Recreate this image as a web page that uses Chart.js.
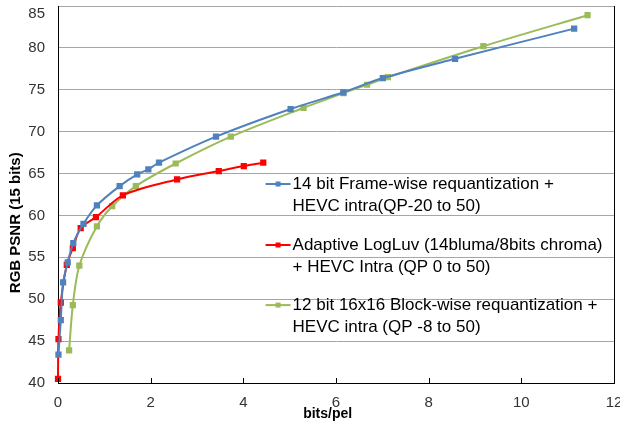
<!DOCTYPE html>
<html>
<head>
<meta charset="utf-8">
<script src="https://cdn.jsdelivr.net/npm/chart.js@4/dist/chart.umd.min.js"></script>
<style>
  html, body { margin: 0; padding: 0; background: #fff; }
  #wrap { width: 620px; height: 421px; }
</style>
</head>
<body>
<div id="wrap"><canvas id="rdChart" width="620" height="421"></canvas></div>
<script>
// bits/pel (x) and RGB PSNR (y)
const frameBits = [0.01, 0.06, 0.11, 0.21, 0.33, 0.55, 0.84, 1.33, 1.71, 1.95, 2.18, 3.41, 5.02, 6.16, 7.01, 8.57, 11.14];
const framePsnr = [43.4, 47.5, 52.0, 54.4, 56.7, 59.0, 61.2, 63.5, 64.9, 65.5, 66.3, 69.4, 72.7, 74.7, 76.4, 78.7, 82.3];

const logluvBits = [0.0, 0.01, 0.06, 0.19, 0.32, 0.49, 0.82, 1.40, 2.57, 3.47, 4.01, 4.43];
const logluvPsnr = [40.5, 45.25, 49.6, 54.1, 56.1, 58.5, 59.8, 62.4, 64.3, 65.3, 65.9, 66.3];

const blockBits = [0.24, 0.32, 0.46, 0.84, 1.17, 1.68, 2.54, 3.73, 5.30, 6.16, 6.67, 7.12, 9.18, 11.43];
const blockPsnr = [43.9, 49.3, 54.0, 58.7, 61.1, 63.5, 66.2, 69.4, 72.85, 74.6, 75.6, 76.5, 80.2, 83.9];

const legendLines = [
    ['14 bit Frame-wise requantization +', 'HEVC intra(QP-20 to 50)'],
    ['Adaptive LogLuv (14bluma/8bits chroma)', '+ HEVC Intra (QP 0 to 50)'],
    ['12 bit 16x16 Block-wise requantization +', 'HEVC intra (QP -8 to 50)']
];
const seriesColors = ['#4F81BD', '#FF0000', '#9BBB59'];

const xTicks = [0, 2, 4, 6, 8, 10, 12];
const yTicks = [40, 45, 50, 55, 60, 65, 70, 75, 80, 85];

const FONT = '"Liberation Sans", Arial, sans-serif';

function toPoints(xs, ys) {
    return xs.map((x, i) => ({ x: x, y: ys[i] }));
}

function makeSet(idx, xs, ys) {
    return {
        label: legendLines[idx].join(' '),
        data: toPoints(xs, ys),
        borderColor: seriesColors[idx],
        backgroundColor: seriesColors[idx],
        borderWidth: 2,
        pointStyle: 'rect',
        pointRadius: 3,
        pointHoverRadius: 3,
        tension: 0.3,
        clip: false,
        showLine: true
    };
}

// tick labels, titles, right border, inward x ticks and the two-line legend
const framePlugin = {
    id: 'frame',
    afterDraw(chart) {
        const ctx = chart.ctx;
        const area = chart.chartArea;
        const xs = chart.scales.x;
        const ys = chart.scales.y;
        ctx.save();
        ctx.strokeStyle = '#000';
        ctx.lineWidth = 1;
        ctx.beginPath();
        ctx.moveTo(area.right + 0.5, area.top);
        ctx.lineTo(area.right + 0.5, area.bottom);
        xTicks.forEach(v => {
            const px = Math.round(xs.getPixelForValue(v)) + 0.5;
            ctx.moveTo(px, area.bottom);
            ctx.lineTo(px, area.bottom - 5);
        });
        ctx.stroke();

        // tick labels
        ctx.fillStyle = '#333';
        ctx.font = '15px ' + FONT;
        ctx.textBaseline = 'middle';
        ctx.textAlign = 'right';
        yTicks.forEach(v => {
            const py = Math.max(ys.getPixelForValue(v), area.top + 8);
            ctx.fillText(String(v), area.left - 13, py);
        });
        ctx.textAlign = 'center';
        xTicks.forEach(v => {
            ctx.fillText(String(v), xs.getPixelForValue(v), area.bottom + 20);
        });

        // axis titles
        ctx.fillStyle = '#000';
        ctx.font = 'bold 14px ' + FONT;
        ctx.fillText('bits/pel', area.left + (area.right - area.left) * 0.485, area.bottom + 31);
        ctx.save();
        ctx.translate(16, area.top + (area.bottom - area.top) * 0.575);
        ctx.rotate(-Math.PI / 2);
        ctx.font = 'bold 15px ' + FONT;
        ctx.fillText('RGB PSNR (15 bits)', 0, 0);
        ctx.restore();

        // legend
        const lx = xs.getPixelForValue(4.48);
        const rowTops = [63.75, 56.47, 49.3];
        ctx.font = '17px ' + FONT;
        ctx.textAlign = 'left';
        legendLines.forEach((lines, i) => {
            const y0 = ys.getPixelForValue(rowTops[i]);
            ctx.strokeStyle = seriesColors[i];
            ctx.lineWidth = 2;
            ctx.beginPath();
            ctx.moveTo(lx, y0);
            ctx.lineTo(lx + 25, y0);
            ctx.stroke();
            ctx.fillStyle = seriesColors[i];
            ctx.fillRect(lx + 10, y0 - 2.5, 5, 5);
            ctx.fillStyle = '#000';
            lines.forEach((t, j) => {
                ctx.fillText(t, lx + 27, y0 + j * 22);
            });
        });
        ctx.restore();
    }
};

new Chart(document.getElementById('rdChart'), {
    type: 'scatter',
    data: {
        datasets: [
            makeSet(0, frameBits, framePsnr),
            makeSet(1, logluvBits, logluvPsnr),
            makeSet(2, blockBits, blockPsnr)
        ]
    },
    options: {
        responsive: false,
        animation: false,
        layout: { padding: { top: 6, right: 6, left: 0, bottom: 0 } },
        plugins: {
            legend: { display: false },
            tooltip: { enabled: false }
        },
        scales: {
            x: {
                type: 'linear',
                min: 0,
                max: 12,
                afterBuildTicks: s => { s.ticks = xTicks.map(v => ({ value: v })); },
                afterFit: s => { s.height = 38; },
                grid: { display: false },
                border: { color: '#000', width: 1 },
                ticks: { display: false }
            },
            y: {
                type: 'linear',
                min: 40,
                max: 85,
                afterBuildTicks: s => { s.ticks = yTicks.map(v => ({ value: v })); },
                afterFit: s => { s.width = 58; },
                grid: { color: '#A6A6A6', lineWidth: 1, drawTicks: false },
                border: { color: '#000', width: 1 },
                ticks: { display: false }
            }
        }
    },
    plugins: [framePlugin]
});
</script>
</body>
</html>
